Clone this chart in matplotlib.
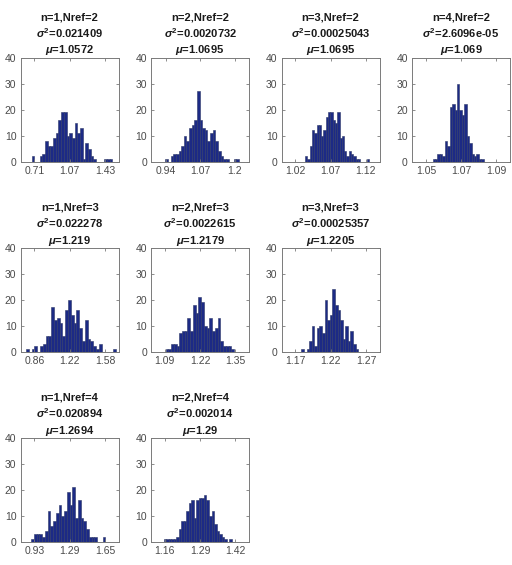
import numpy as np
import matplotlib
matplotlib.use("Agg")
import matplotlib.pyplot as plt

plt.rcParams['font.family'] = ['Liberation Sans', 'DejaVu Sans']
plt.rcParams['mathtext.fontset'] = 'custom'
plt.rcParams['mathtext.rm'] = 'Liberation Sans:bold'
plt.rcParams['mathtext.it'] = 'Liberation Sans:bold:italic'
plt.rcParams['mathtext.bf'] = 'Liberation Sans:bold'

# ---- data ----
n_vals = [1, 2, 3, 4, 1, 2, 3, 1, 2]
nref_vals = [2, 2, 2, 2, 3, 3, 3, 4, 4]
sigma2 = ['0.021409', '0.0020732', '0.00025043', '2.6096e-05',
          '0.022278', '0.0022615', '0.00025357',
          '0.020894', '0.002014']
mu = ['1.0572', '1.0695', '1.0695', '1.069',
      '1.219', '1.2179', '1.2205',
      '1.2694', '1.29']

# histogram bin range (low, high) and counts
bin_lo = [0.681, 0.939, 1.034, 1.0538, 0.775, 1.093, 1.179, 0.897, 1.156]
bin_hi = [1.504, 1.217, 1.125, 1.083, 1.689, 1.345, 1.259, 1.655, 1.406]
counts = [
    [2, 0, 0, 2, 3, 8, 6, 6, 9, 11, 16, 19, 19, 10, 11, 9, 15, 11, 13, 1, 7, 5, 2, 1, 0, 0, 0, 1, 1, 1],
    [1, 0, 2, 3, 3, 4, 6, 10, 8, 13, 14, 16, 27, 16, 13, 12, 8, 11, 12, 8, 4, 2, 1, 1, 0, 0, 1, 1],
    [2, 1, 6, 12, 11, 14, 14, 10, 12, 17, 19, 19, 16, 15, 19, 9, 10, 4, 2, 4, 3, 2, 1, 1, 0, 0, 0, 1],
    [1, 1, 3, 3, 2, 8, 6, 21, 22, 20, 30, 20, 18, 22, 10, 7, 3, 2, 3, 1, 1],
    [1, 0, 1, 2, 0, 2, 3, 6, 6, 17, 12, 13, 11, 6, 16, 20, 14, 11, 16, 9, 4, 12, 5, 4, 2, 1, 3, 0, 0, 0, 0, 1],
    [1, 1, 3, 3, 2, 7, 8, 8, 13, 8, 18, 15, 21, 19, 10, 9, 13, 8, 9, 13, 4, 2, 2, 2, 1],
    [1, 0, 1, 4, 10, 2, 9, 10, 7, 20, 12, 14, 24, 18, 16, 12, 5, 10, 4, 8, 3, 1],
    [1, 3, 3, 3, 2, 4, 12, 6, 8, 11, 14, 10, 12, 19, 14, 21, 9, 16, 9, 8, 5, 2, 2, 2, 0, 0, 2],
    [1, 1, 1, 1, 1, 2, 5, 8, 8, 12, 15, 16, 9, 16, 17, 17, 18, 16, 10, 12, 7, 4, 3, 2, 1, 0, 1],
]
xlims = [(0.57, 1.57), (0.885, 1.255), (1.0005, 1.1395), (1.042, 1.098),
         (0.72, 1.72), (1.04, 1.40), (1.151, 1.289),
         (0.79, 1.79), (1.11, 1.47)]
xticks = [[0.71, 1.07, 1.43], [0.94, 1.07, 1.2], [1.02, 1.07, 1.12], [1.05, 1.07, 1.09],
          [0.86, 1.22, 1.58], [1.09, 1.22, 1.35], [1.17, 1.22, 1.27],
          [0.93, 1.29, 1.65], [1.16, 1.29, 1.42]]
xticklabels = [['0.71', '1.07', '1.43'], ['0.94', '1.07', '1.2'], ['1.02', '1.07', '1.12'],
               ['1.05', '1.07', '1.09'], ['0.86', '1.22', '1.58'], ['1.09', '1.22', '1.35'],
               ['1.17', '1.22', '1.27'], ['0.93', '1.29', '1.65'], ['1.16', '1.29', '1.42']]
grid_pos = [(0, 0), (0, 1), (0, 2), (0, 3), (1, 0), (1, 1), (1, 2), (2, 0), (2, 1)]
yticks = [0, 10, 20, 30, 40]

# ---- figure ----
fig, axes = plt.subplots(3, 4, figsize=(5.12, 5.65), dpi=100)
fig.subplots_adjust(left=0.0404, right=0.996, top=0.898, bottom=0.0412,
                    wspace=0.331, hspace=0.827)

used = set(grid_pos)
for r in range(3):
    for c in range(4):
        if (r, c) not in used:
            axes[r, c].set_visible(False)

frame_col = '#7a7a7a'
label_col = '#4a4a4a'

for i, (r, c) in enumerate(grid_pos):
    ax = axes[r, c]
    cnt = counts[i]
    edges = np.linspace(bin_lo[i], bin_hi[i], len(cnt) + 1)
    ax.bar(edges[:-1], cnt, width=np.diff(edges), align='edge',
           color='#1c2a85', edgecolor='#2c3768', linewidth=0.4)
    ax.set_xlim(*xlims[i])
    ax.set_ylim(0, 40)
    ax.set_yticks(yticks)
    ax.set_xticks(xticks[i])
    ax.set_xticklabels(xticklabels[i])
    ax.tick_params(direction='in', length=2.5, width=0.6, colors=frame_col,
                   labelcolor=label_col, labelsize=7.5, top=True, right=True, pad=3)
    for s in ax.spines.values():
        s.set_color(frame_col)
        s.set_linewidth(0.7)
    title = (f"n={n_vals[i]},Nref={nref_vals[i]}\n"
             + r"$\sigma^2$" + f"={sigma2[i]}\n"
             + r"$\mu$" + f"={mu[i]}")
    ax.set_title(title, fontsize=8, fontweight='bold', color='#1a1a1a',
                 linespacing=1.35, pad=3)

fig.savefig('out.png', dpi=100)
